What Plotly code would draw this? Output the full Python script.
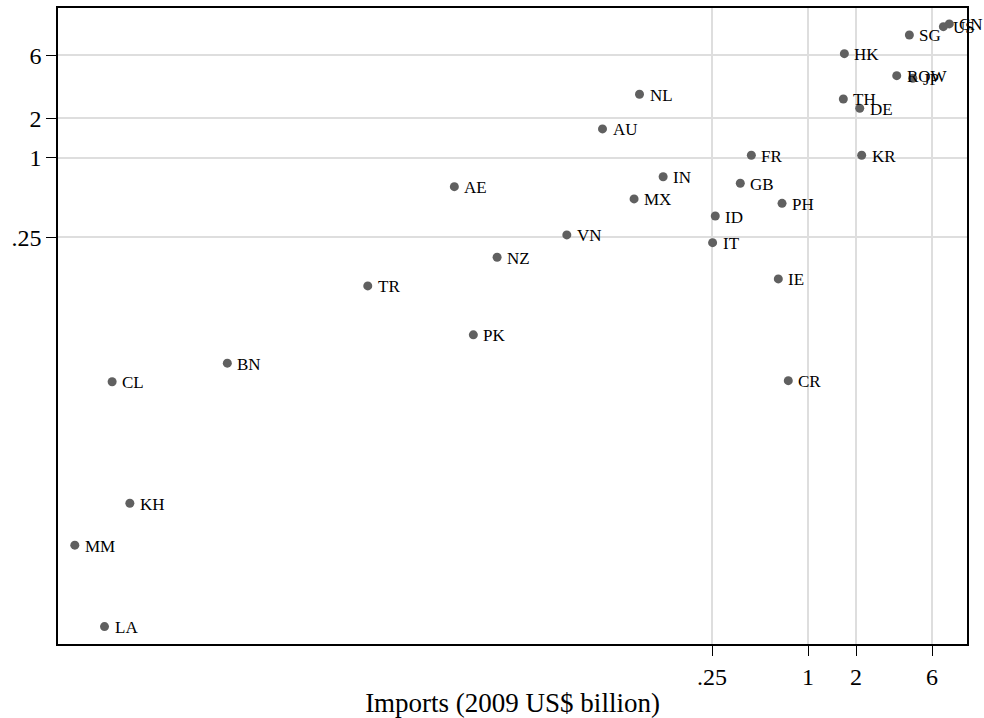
import numpy as np
import plotly.graph_objects as go

# Country codes with imports (x) and exports (y), both in 2009 US$ billion
codes = ["CN", "US", "SG", "HK", "ROW", "JP", "NL", "TH", "DE", "AU",
         "FR", "KR", "IN", "GB", "MX", "PH", "ID", "IT", "IE", "CR",
         "VN", "AE", "NZ", "TR", "PK", "BN", "CL", "KH", "MM", "LA"]
imports = [7.69, 7.06, 4.32, 1.69, 3.60, 4.54, 0.0877, 1.665, 2.11, 0.0514,
           0.441, 2.17, 0.1234, 0.376, 0.0811, 0.687, 0.262, 0.252, 0.651, 0.752,
           0.0307, 0.00605, 0.01122, 0.001733, 0.00796, 0.000228, 4.32e-5, 5.58e-5, 2.52e-5, 3.87e-5]
exports = [10.38, 9.90, 8.56, 6.18, 4.21, 4.02, 3.04, 2.80, 2.38, 1.66,
           1.048, 1.048, 0.721, 0.643, 0.489, 0.453, 0.363, 0.228, 0.121, 0.0205,
           0.261, 0.606, 0.1767, 0.1071, 0.0456, 0.0278, 0.0201, 0.00241, 0.00116, 0.00028]

tick_vals = [0.25, 1, 2, 6]
tick_text = [".25", "1", "2", "6"]

serif = "Liberation Serif, Times New Roman, serif"

fig = go.Figure()
fig.add_trace(go.Scatter(
    x=imports, y=exports, mode="markers",
    marker=dict(size=9, color="#606060", line=dict(width=0)),
    hoverinfo="text", text=codes, showlegend=False,
))

# Country labels sit just to the right of each dot
for c, xv, yv in zip(codes, imports, exports):
    fig.add_annotation(
        x=np.log10(xv), y=np.log10(yv), xref="x", yref="y",
        text=c, showarrow=False, xanchor="left", yanchor="middle",
        xshift=8, yshift=-1,
        font=dict(family=serif, size=17, color="#000000"),
    )

axis_common = dict(
    type="log",
    tickmode="array",
    tickvals=tick_vals,
    ticktext=tick_text,
    showgrid=True,
    gridcolor="#dedede",
    gridwidth=2,
    zeroline=False,
    showline=True,
    linecolor="#000000",
    linewidth=1.5,
    mirror=True,
    ticks="outside",
    ticklen=10,
    tickcolor="#000000",
    tickwidth=1,
    automargin=False,
    tickfont=dict(family=serif, size=24, color="#000000"),
)

fig.update_xaxes(
    **axis_common,
    range=[-4.704, 0.997],
    title=dict(text="Imports (2009 US$ billion)",
               font=dict(family=serif, size=27, color="#000000"), standoff=8),
)
fig.update_yaxes(**axis_common, range=[-3.685, 1.137])

fig.update_layout(
    width=984, height=718,
    margin=dict(l=58, r=17, t=8, b=74),
    paper_bgcolor="#ffffff",
    plot_bgcolor="#ffffff",
)

fig.write_html("out.html")
